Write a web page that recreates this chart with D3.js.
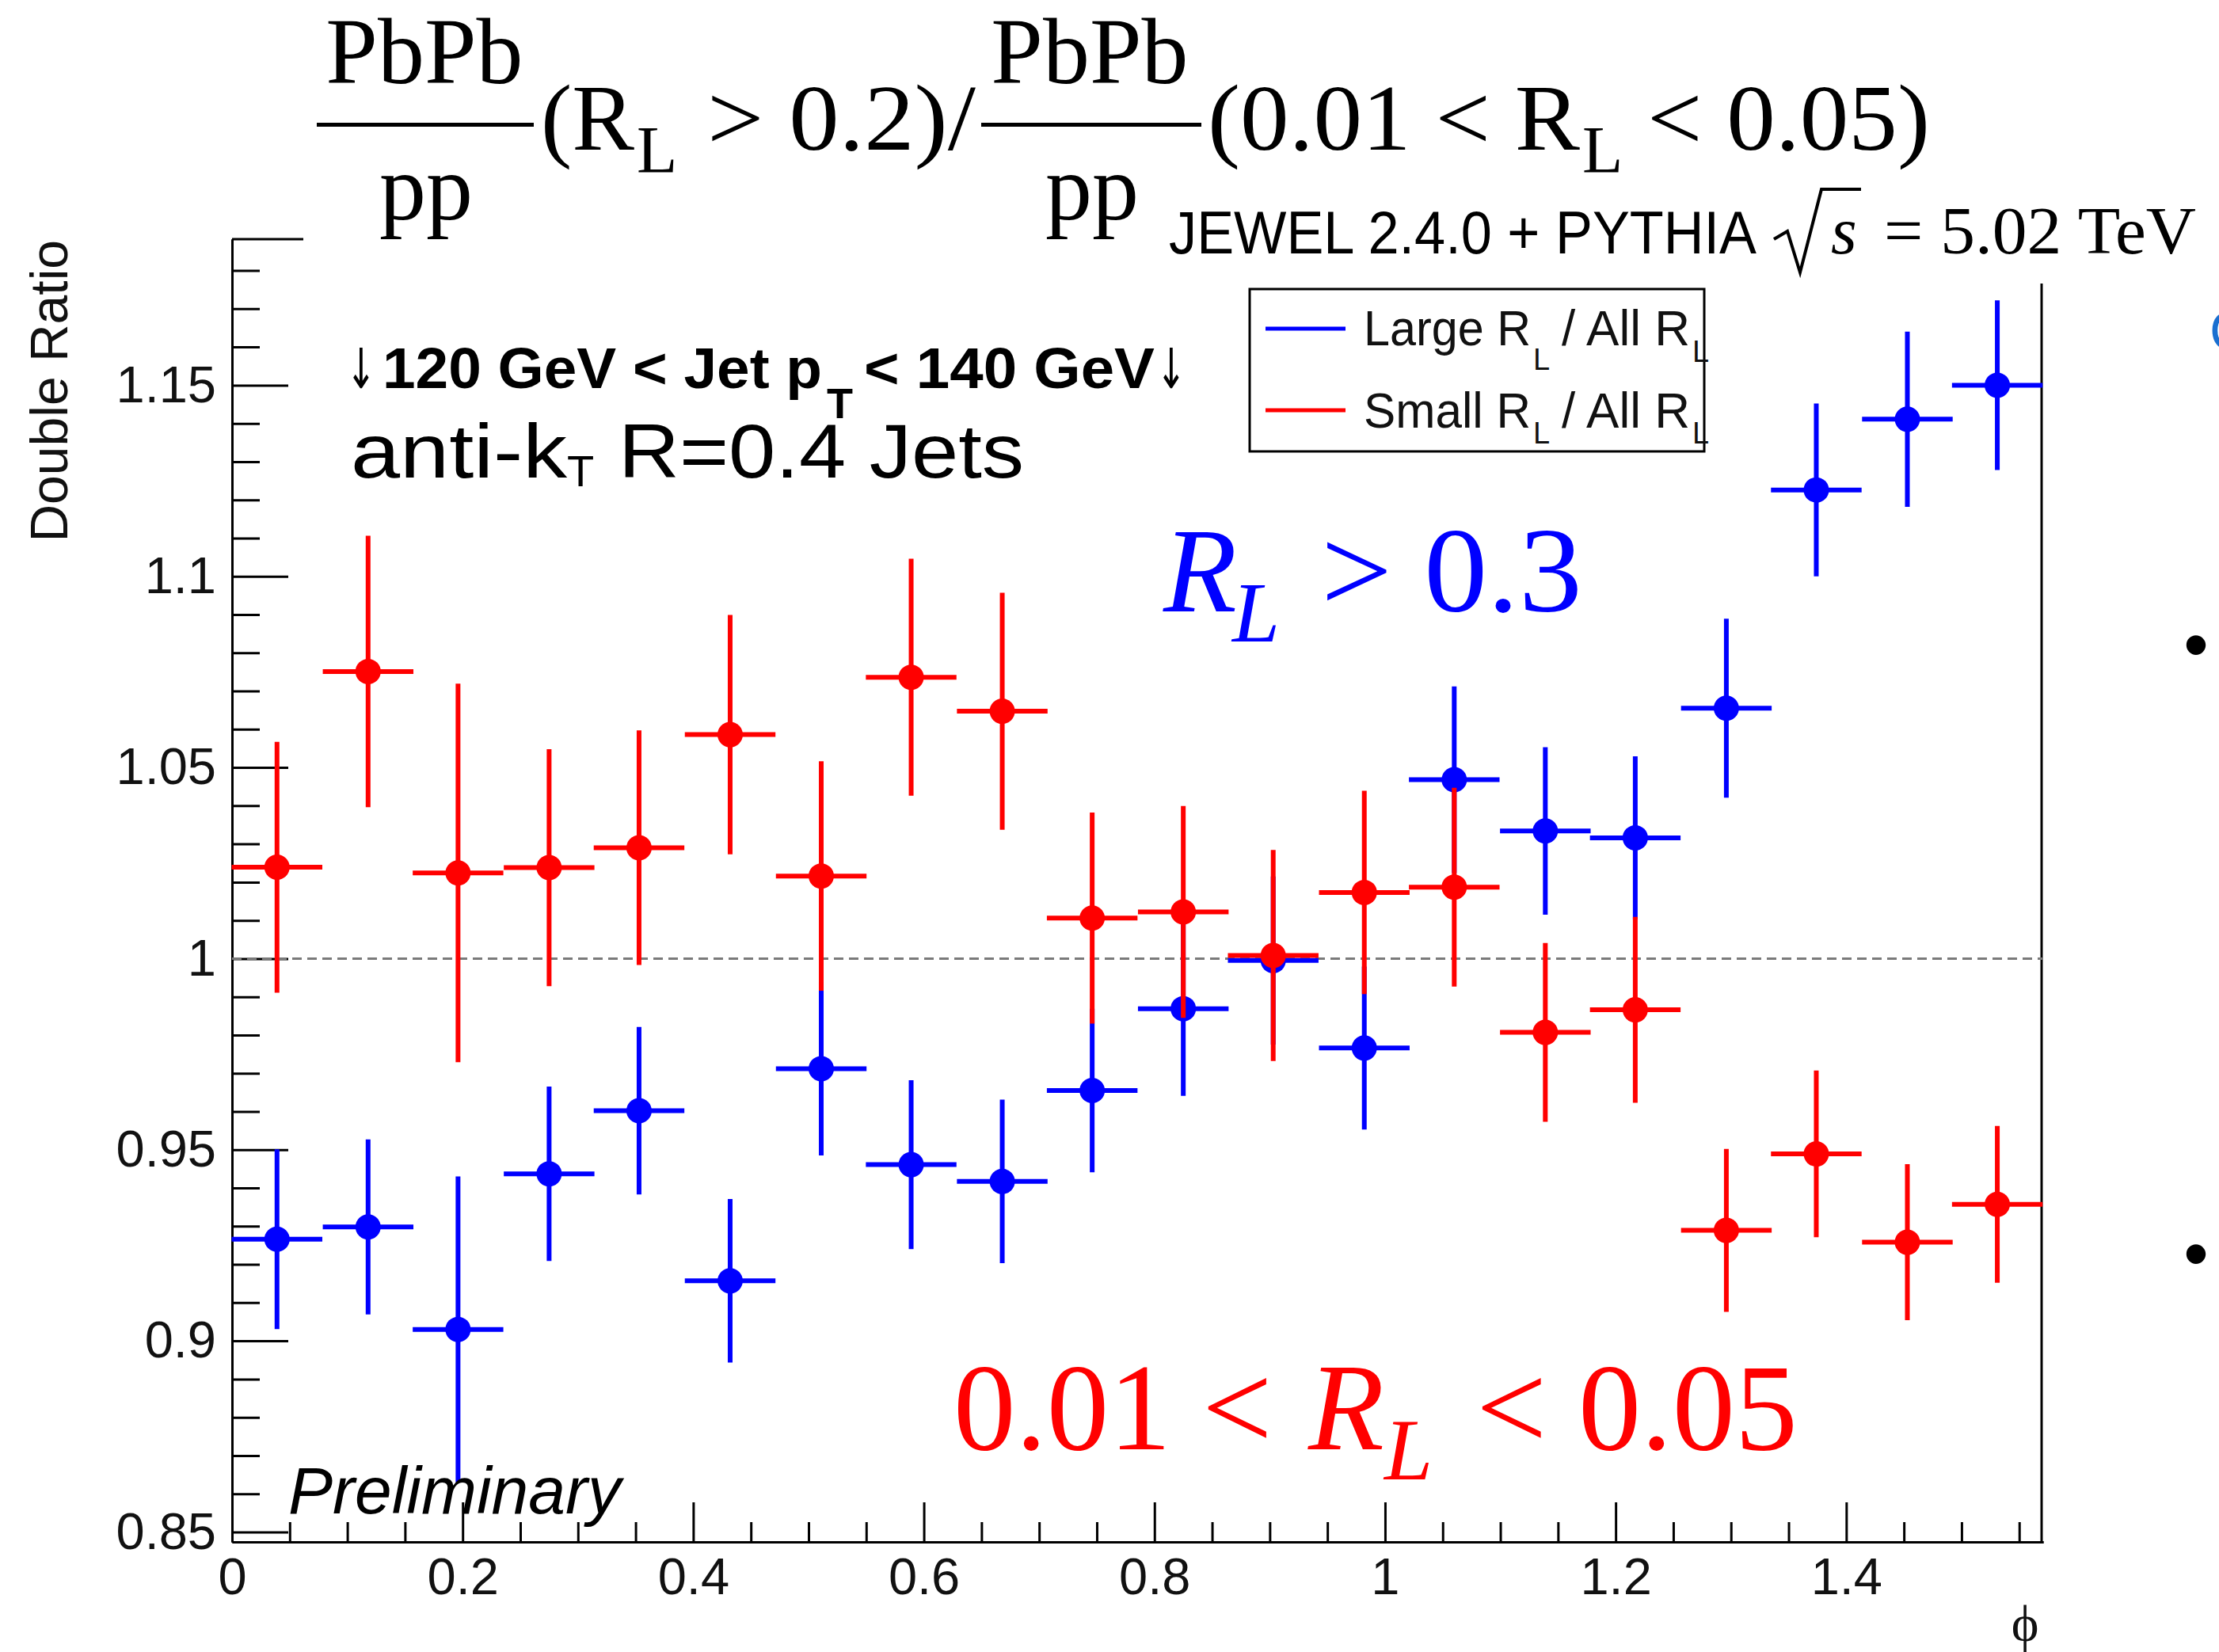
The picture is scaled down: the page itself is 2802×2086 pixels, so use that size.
<!DOCTYPE html>
<html>
<head>
<meta charset="utf-8">
<script src="https://cdn.jsdelivr.net/npm/d3@7"></script>
<style>
  body { margin: 0; background: #fff; }
  svg { display: block; }
</style>
</head>
<body>
<script>
// ---- data: JEWEL double ratio vs phi, 20 bins over [0, pi/2] ----
const phiCenters = [0.039, 0.118, 0.196, 0.275, 0.353, 0.432, 0.511, 0.589, 0.668, 0.746,
                    0.825, 0.903, 0.982, 1.060, 1.139, 1.217, 1.296, 1.374, 1.453, 1.531];
const binHalfWidth = 0.0393;

// Large R_L / All R_L
const largeRatio = [0.9266, 0.9298, 0.9030, 0.9437, 0.9602, 0.9157, 0.9712, 0.9461, 0.9417, 0.9655,
                    0.9869, 0.9995, 0.9766, 1.0468, 1.0334, 1.0316, 1.0655, 1.1226, 1.1411, 1.1500];
const largeErr   = [0.0235, 0.0229, 0.0400, 0.0228, 0.0219, 0.0214, 0.0227, 0.0221, 0.0214, 0.0214,
                    0.0228, 0.0220, 0.0213, 0.0244, 0.0219, 0.0213, 0.0234, 0.0226, 0.0229, 0.0222];

// Small R_L / All R_L
const smallRatio = [1.0239, 1.0751, 1.0224, 1.0238, 1.0290, 1.0586, 1.0216, 1.0736, 1.0647, 1.0106,
                    1.0122, 1.0008, 1.0173, 1.0187, 0.9807, 0.9866, 0.9289, 0.9489, 0.9258, 0.9357];
const smallErr   = [0.0328, 0.0355, 0.0495, 0.0310, 0.0307, 0.0313, 0.0300, 0.0310, 0.0310, 0.0276,
                    0.0277, 0.0276, 0.0266, 0.0260, 0.0234, 0.0243, 0.0213, 0.0218, 0.0204, 0.0205];

const seriesNames  = ["Large R", "Small R"];
const seriesColors = ["#0000ff", "#ff0000"];

const xTicks      = [0, 0.2, 0.4, 0.6, 0.8, 1, 1.2, 1.4];
const xTickLabels = ["0", "0.2", "0.4", "0.6", "0.8", "1", "1.2", "1.4"];
const yTicks      = [0.85, 0.9, 0.95, 1, 1.05, 1.1, 1.15];
const yTickLabels = ["0.85", "0.9", "0.95", "1", "1.05", "1.1", "1.15"];

// ---- layout ----
const W = 2802, H = 2086;
const SANS  = "'Liberation Sans', Arial, Helvetica, sans-serif";
const SERIF = "'Liberation Serif', 'Times New Roman', Times, serif";

const svg = d3.select("body").append("svg")
  .attr("width", W).attr("height", H)
  .attr("viewBox", `0 0 ${W} ${H}`);
svg.append("rect").attr("width", W).attr("height", H).attr("fill", "#fff");

const x = d3.scaleLinear().domain([0, Math.PI / 2]).range([293, 2580]);
const y = d3.scaleLinear().domain([0.8474, 1.1882]).range([1947, 302]);

const [x0, x1] = x.range();
const [yB, yT] = y.range();

// ---- axes ----
const xMinor = d3.range(0.05, 1.56, 0.05).filter(v => xTicks.every(t => Math.abs(t - v) > 1e-6));
const yMinor = d3.range(0.86, 1.185, 0.01).filter(v => yTicks.every(t => Math.abs(t - v) > 1e-6));

function styleAxis(g) {
  g.selectAll("path.domain").attr("stroke", "#000").attr("stroke-width", 3);
  g.selectAll(".tick line").attr("stroke", "#000").attr("stroke-width", 3);
  g.selectAll(".tick text").attr("fill", "#111").attr("font-family", SANS).attr("font-size", 65);
}

svg.append("g").attr("transform", `translate(0,${yB})`)
  .call(d3.axisBottom(x).tickValues(xMinor).tickSize(-25).tickSizeOuter(0).tickFormat(""))
  .call(styleAxis);
svg.append("g").attr("transform", `translate(0,${yB})`)
  .call(d3.axisBottom(x).tickValues(xTicks).tickSize(-50).tickSizeOuter(0).tickPadding(20)
        .tickFormat((d, i) => xTickLabels[i]))
  .call(styleAxis);

svg.append("g").attr("transform", `translate(${x0},0)`)
  .call(d3.axisLeft(y).tickValues(yMinor).tickSize(-35).tickSizeOuter(0).tickFormat(""))
  .call(styleAxis);
svg.append("g").attr("transform", `translate(${x0},0)`)
  .call(d3.axisLeft(y).tickValues(yTicks).tickSize(-71).tickSizeOuter(0).tickPadding(20)
        .tickFormat((d, i) => yTickLabels[i]))
  .call(styleAxis);

// frame: top stub and right edge (upper part sits under the header)
svg.append("line").attr("x1", x0).attr("x2", 383).attr("y1", yT).attr("y2", yT)
  .attr("stroke", "#000").attr("stroke-width", 3);
svg.append("line").attr("x1", x1 - 2).attr("x2", x1 - 2).attr("y1", 358).attr("y2", yB)
  .attr("stroke", "#000").attr("stroke-width", 3);

// unity reference line
svg.append("line").attr("x1", x0).attr("x2", x1).attr("y1", y(1)).attr("y2", y(1))
  .attr("stroke", "#7a7a7a").attr("stroke-width", 3).attr("stroke-dasharray", "12,7");

// ---- points with error bars ----
const series = [
  { vals: largeRatio, errs: largeErr, color: seriesColors[0] },
  { vals: smallRatio, errs: smallErr, color: seriesColors[1] }
];
series.forEach(s => {
  const g = svg.append("g");
  const pts = phiCenters.map((p, i) => ({ p, v: s.vals[i], e: s.errs[i] }));
  g.selectAll("line.h").data(pts).join("line")
    .attr("x1", d => x(d.p - binHalfWidth)).attr("x2", d => x(d.p + binHalfWidth))
    .attr("y1", d => y(d.v)).attr("y2", d => y(d.v))
    .attr("stroke", s.color).attr("stroke-width", 6);
  g.selectAll("line.v").data(pts).join("line")
    .attr("x1", d => x(d.p)).attr("x2", d => x(d.p))
    .attr("y1", d => y(d.v - d.e)).attr("y2", d => y(d.v + d.e))
    .attr("stroke", s.color).attr("stroke-width", 6);
  g.selectAll("circle").data(pts).join("circle")
    .attr("cx", d => x(d.p)).attr("cy", d => y(d.v)).attr("r", 16)
    .attr("fill", s.color);
});

// ---- axis titles ----
svg.append("text").attr("transform", "translate(85,303) rotate(-90)")
  .attr("text-anchor", "end").attr("font-family", SANS).attr("font-size", 66).attr("fill", "#111")
  .text("Double Ratio");
svg.append("text").attr("x", 2557).attr("y", 2072).attr("text-anchor", "middle")
  .attr("font-family", SERIF).attr("font-size", 66).attr("fill", "#111").text("ϕ");

// ---- legend ----
const lg = svg.append("g");
lg.append("rect").attr("x", 1578).attr("y", 365).attr("width", 574).attr("height", 205)
  .attr("fill", "#fff").attr("stroke", "#000").attr("stroke-width", 3);
[[415, 436, 467, 457], [518, 540, 560, 560]].forEach((r, i) => {
  lg.append("line").attr("x1", 1598).attr("x2", 1699).attr("y1", r[0]).attr("y2", r[0])
    .attr("stroke", seriesColors[i]).attr("stroke-width", 5);
  const t = (txt, xx, yy, fs) => lg.append("text").attr("x", xx).attr("y", yy)
    .attr("font-family", SANS).attr("font-size", fs).attr("fill", "#111").text(txt);
  t(seriesNames[i], 1722, r[1], 63).attr("textLength", 211).attr("lengthAdjust", "spacingAndGlyphs");
  t("L", 1936, r[2], 38);
  t("/ All R", 1972, r[1], 63).attr("textLength", 162).attr("lengthAdjust", "spacingAndGlyphs");
  t("L", 2137, r[3], 38);
});

// ---- header formula ----
const hdr = svg.append("g").attr("font-family", SERIF).attr("fill", "#000");
const ht = (txt, xx, yy, fs, anchor) => hdr.append("text").attr("x", xx).attr("y", yy)
  .attr("font-size", fs).attr("text-anchor", anchor || "start").text(txt);
ht("PbPb", 536, 105, 118, "middle");
hdr.append("rect").attr("x", 400).attr("y", 155).attr("width", 274).attr("height", 5);
ht("pp", 538, 277, 118, "middle");
ht("(R", 683, 189, 118);
ht("L", 804, 218, 84);
ht("> 0.2)/", 893, 189, 118).attr("textLength", 339).attr("lengthAdjust", "spacingAndGlyphs");
ht("PbPb", 1376, 105, 118, "middle");
hdr.append("rect").attr("x", 1239).attr("y", 155).attr("width", 278).attr("height", 5);
ht("pp", 1379, 277, 118, "middle");
ht("(0.01 < R", 1525, 189, 118).attr("textLength", 470).attr("lengthAdjust", "spacingAndGlyphs");
ht("L", 1998, 218, 84);
ht("< 0.05)", 2080, 189, 118).attr("textLength", 357).attr("lengthAdjust", "spacingAndGlyphs");

// generator line
svg.append("text").attr("x", 1476).attr("y", 320).attr("font-family", SANS).attr("font-size", 76)
  .attr("textLength", 742).attr("lengthAdjust", "spacingAndGlyphs").text("JEWEL 2.4.0 + PYTHIA");
svg.append("path").attr("d", "M2240,302 L2257,292 L2273,344 L2300,239 L2350,239")
  .attr("fill", "none").attr("stroke", "#000").attr("stroke-width", 4);
svg.append("text").attr("x", 2312).attr("y", 320).attr("font-family", SERIF).attr("font-style", "italic")
  .attr("font-size", 84).text("s");
svg.append("text").attr("x", 2379).attr("y", 320).attr("font-family", SERIF)
  .attr("font-size", 84).attr("textLength", 394).attr("lengthAdjust", "spacingAndGlyphs").text("= 5.02 TeV");

// ---- in-plot annotations ----
const ann = svg.append("g").attr("font-family", SANS).attr("fill", "#000");
const ARROW = "'DejaVu Sans', sans-serif";
ann.append("text").attr("x", 437).attr("y", 490).attr("font-size", 70).attr("font-family", ARROW)
  .attr("textLength", 38).attr("lengthAdjust", "spacingAndGlyphs").text("↓");
ann.append("text").attr("x", 483).attr("y", 490).attr("font-size", 72).attr("font-weight", "bold")
  .attr("textLength", 555).attr("lengthAdjust", "spacingAndGlyphs").text("120 GeV < Jet p");
ann.append("text").attr("x", 1044).attr("y", 528).attr("font-size", 54).attr("font-weight", "bold").text("T");
ann.append("text").attr("x", 1091).attr("y", 490).attr("font-size", 72).attr("font-weight", "bold")
  .attr("textLength", 367).attr("lengthAdjust", "spacingAndGlyphs").text("< 140 GeV");
ann.append("text").attr("x", 1460).attr("y", 490).attr("font-size", 70).attr("font-family", ARROW)
  .attr("textLength", 38).attr("lengthAdjust", "spacingAndGlyphs").text("↓");

ann.append("text").attr("x", 443).attr("y", 603).attr("font-size", 96)
  .attr("textLength", 273).attr("lengthAdjust", "spacingAndGlyphs").text("anti-k");
ann.append("text").attr("x", 716).attr("y", 614).attr("font-size", 56).text("T");
ann.append("text").attr("x", 781).attr("y", 603).attr("font-size", 96)
  .attr("textLength", 512).attr("lengthAdjust", "spacingAndGlyphs").text("R=0.4 Jets");

ann.append("text").attr("x", 364).attr("y", 1911).attr("font-size", 84).attr("font-style", "italic")
  .attr("textLength", 420).attr("lengthAdjust", "spacingAndGlyphs").text("Preliminary");

// region labels
const blueLab = svg.append("g").attr("font-family", SERIF).attr("fill", seriesColors[0]);
blueLab.append("text").attr("x", 1469).attr("y", 772).attr("font-size", 152).attr("font-style", "italic").text("R");
blueLab.append("text").attr("x", 1556).attr("y", 810).attr("font-size", 108).attr("font-style", "italic").text("L");
blueLab.append("text").attr("x", 1668).attr("y", 772).attr("font-size", 152)
  .attr("textLength", 330).attr("lengthAdjust", "spacingAndGlyphs").text("> 0.3");

const redLab = svg.append("g").attr("font-family", SERIF).attr("fill", seriesColors[1]);
redLab.append("text").attr("x", 1204).attr("y", 1830).attr("font-size", 157).text("0.01 <");
redLab.append("text").attr("x", 1652).attr("y", 1830).attr("font-size", 157).attr("font-style", "italic").text("R");
redLab.append("text").attr("x", 1748).attr("y", 1868).attr("font-size", 110).attr("font-style", "italic").text("L");
redLab.append("text").attr("x", 1864).attr("y", 1830).attr("font-size", 157)
  .attr("textLength", 406).attr("lengthAdjust", "spacingAndGlyphs").text("< 0.05");

// slide-edge marks on the right
svg.append("text").attr("x", 2790).attr("y", 442).attr("font-family", SANS).attr("font-size", 70)
  .attr("fill", "#1a6fd0").text("C");
[845, 1614].forEach(by => svg.append("text").attr("x", 2773).attr("y", by).attr("text-anchor", "middle")
  .attr("font-family", SANS).attr("font-size", 90).attr("fill", "#000").text("•"));
</script>
</body>
</html>
